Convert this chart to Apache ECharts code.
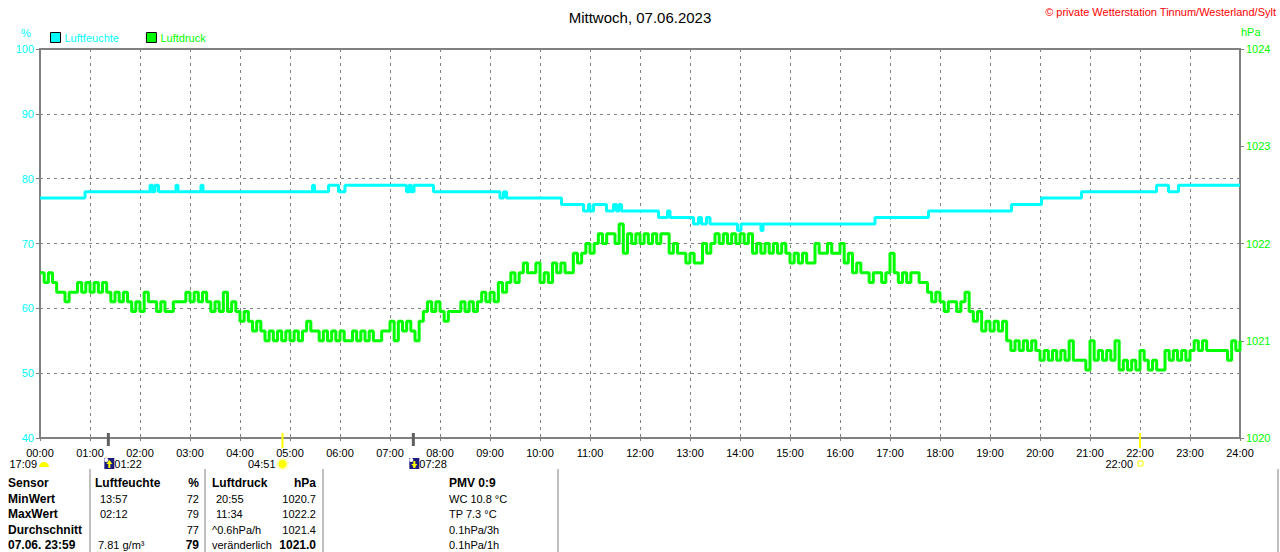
<!DOCTYPE html>
<html>
<head>
<meta charset="utf-8">
<title>Mittwoch, 07.06.2023</title>
<script src="https://cdn.jsdelivr.net/npm/echarts@6/dist/echarts.min.js"></script>
<style>
html, body { margin: 0; padding: 0; background: #fff; }
#chart { width: 1280px; height: 552px; }
</style>
</head>
<body>
<div id="chart"></div>
<script>
// x axis tick labels (hours 0..24)
var hourLabels = ['00:00','01:00','02:00','03:00','04:00','05:00','06:00','07:00','08:00','09:00','10:00','11:00',
	'12:00','13:00','14:00','15:00','16:00','17:00','18:00','19:00','20:00','21:00','22:00','23:00','24:00'];

// Luftfeuchte: step changes, time in hours
var humTimes  = [0, 0.9, 2.2, 2.25, 2.3, 2.37, 2.72, 2.76, 3.22, 3.26, 5.45, 5.49, 5.77, 5.97, 6.1,
	7.33, 7.38, 7.43, 7.48, 7.87, 9.2, 9.27, 9.33, 10.43, 10.87, 10.97, 11.0, 11.07, 11.33, 11.47,
	11.53, 11.58, 11.63, 12.37, 12.55, 12.6, 13.07, 13.17, 13.23, 13.33, 13.4, 13.95, 14.02, 14.42, 14.46,
	16.7, 17.77, 19.43, 20.03, 20.83, 22.33, 22.57, 22.77, 24];
var humValues = [77, 78, 79, 78, 79, 78, 79, 78, 79, 78, 79, 78, 79, 78, 79,
	78, 79, 78, 79, 78, 77, 78, 77, 76, 75, 76, 75, 76, 75, 76,
	75, 76, 75, 74, 75, 74, 73, 74, 73, 74, 73, 72, 73, 72, 73,
	74, 75, 76, 77, 78, 79, 78, 79, 79];

// Luftdruck: one reading every 5 minutes from 00:00 to 24:00
var presStepMin = 5;
var presValues = [
	1021.7, 1021.6, 1021.7, 1021.6, 1021.5, 1021.5, 1021.4, 1021.5, 1021.5, 1021.6, 1021.5, 1021.6,
	1021.5, 1021.6, 1021.5, 1021.6, 1021.5, 1021.4, 1021.5, 1021.4, 1021.5, 1021.4, 1021.3, 1021.4,
	1021.3, 1021.5, 1021.4, 1021.4, 1021.3, 1021.4, 1021.3, 1021.3, 1021.4, 1021.4, 1021.4, 1021.5,
	1021.4, 1021.5, 1021.4, 1021.5, 1021.4, 1021.3, 1021.4, 1021.3, 1021.5, 1021.3, 1021.4, 1021.3,
	1021.2, 1021.3, 1021.2, 1021.1, 1021.2, 1021.1, 1021.0, 1021.1, 1021.0, 1021.1, 1021.0, 1021.1,
	1021.0, 1021.1, 1021.0, 1021.1, 1021.2, 1021.1, 1021.1, 1021.0, 1021.1, 1021.0, 1021.1, 1021.0,
	1021.1, 1021.0, 1021.0, 1021.1, 1021.0, 1021.1, 1021.0, 1021.1, 1021.0, 1021.0, 1021.1, 1021.1,
	1021.2, 1021.0, 1021.2, 1021.1, 1021.2, 1021.1, 1021.0, 1021.2, 1021.3, 1021.4, 1021.3, 1021.4,
	1021.3, 1021.2, 1021.3, 1021.3, 1021.3, 1021.4, 1021.3, 1021.4, 1021.3, 1021.4, 1021.5, 1021.4,
	1021.5, 1021.4, 1021.6, 1021.5, 1021.6, 1021.7, 1021.6, 1021.7, 1021.8, 1021.7, 1021.7, 1021.8,
	1021.6, 1021.7, 1021.6, 1021.8, 1021.7, 1021.8, 1021.7, 1021.7, 1021.9, 1021.8, 1021.9, 1022.0,
	1021.9, 1022.0, 1022.1, 1022.0, 1022.1, 1022.1, 1022.0, 1022.2, 1021.9, 1022.1, 1022.0, 1022.1,
	1022.0, 1022.1, 1022.0, 1022.1, 1022.0, 1022.1, 1022.1, 1021.9, 1022.0, 1021.9, 1021.9, 1021.8,
	1021.9, 1021.8, 1021.8, 1022.0, 1021.9, 1022.0, 1022.1, 1022.0, 1022.1, 1022.0, 1022.1, 1022.0,
	1022.1, 1022.0, 1022.1, 1021.9, 1022.0, 1021.9, 1022.0, 1021.9, 1022.0, 1021.9, 1022.0, 1021.9,
	1021.8, 1021.9, 1021.8, 1021.9, 1021.8, 1021.8, 1022.0, 1021.9, 1021.9, 1022.0, 1021.9, 1021.9,
	1022.0, 1021.8, 1021.9, 1021.7, 1021.8, 1021.7, 1021.7, 1021.6, 1021.7, 1021.7, 1021.6, 1021.7,
	1021.9, 1021.7, 1021.6, 1021.7, 1021.6, 1021.7, 1021.7, 1021.6, 1021.6, 1021.5, 1021.4, 1021.5,
	1021.4, 1021.3, 1021.4, 1021.4, 1021.3, 1021.4, 1021.5, 1021.3, 1021.2, 1021.3, 1021.1, 1021.2,
	1021.1, 1021.2, 1021.1, 1021.2, 1021.0, 1020.9, 1021.0, 1020.9, 1021.0, 1020.9, 1021.0, 1020.9,
	1020.8, 1020.9, 1020.8, 1020.9, 1020.8, 1020.9, 1020.8, 1021.0, 1020.8, 1020.8, 1020.8, 1020.7,
	1021.0, 1020.8, 1020.9, 1020.8, 1020.9, 1020.8, 1021.0, 1020.7, 1020.8, 1020.7, 1020.8, 1020.7,
	1020.9, 1020.8, 1020.7, 1020.8, 1020.7, 1020.7, 1020.9, 1020.8, 1020.9, 1020.8, 1020.9, 1020.8,
	1020.9, 1021.0, 1020.9, 1021.0, 1020.9, 1020.9, 1020.9, 1020.9, 1020.9, 1020.8, 1021.0, 1020.9,
	1021.0
];

// sun / moon events under the time axis
var eventTimes  = [0, 1 + 22 / 60, 4 + 51 / 60, 7 + 28 / 60, 22];
var eventLabels = ['17:09', '01:22', '04:51', '07:28', '22:00'];
var eventIcons  = ['sunHalf', 'moonUp', 'sun', 'moonDown', 'sunBox'];

// table under the chart
var tabSensor = ['Sensor', 'MinWert', 'MaxWert', 'Durchschnitt', '07.06. 23:59'];
var tabHumTime = ['Luftfeuchte', '13:57', '02:12', '', '7.81 g/m\u00b3'];
var tabHumVal = ['%', '72', '79', '77', '79'];
var tabPresTime = ['Luftdruck', '20:55', '11:34', '^0.6hPa/h', 'ver\u00e4nderlich'];
var tabPresVal = ['hPa', '1020.7', '1022.2', '1021.4', '1021.0'];
var tabExtra = ['PMV 0:9', 'WC 10.8 \u00b0C', 'TP 7.3 \u00b0C', '0.1hPa/3h', '0.1hPa/1h'];

var FONT = '"Liberation Sans", Arial, sans-serif';
var CYAN = '#00ffff', GREEN = '#00ff00', GRID = '#808080';

var humData = humTimes.map(function (t, i) { return [t, humValues[i]]; });
var presData = presValues.map(function (v, i) { return [i * presStepMin / 60, v]; });

var chart = echarts.init(document.getElementById('chart'), null, { renderer: 'svg' });

var option = {
	animation: false,
	backgroundColor: '#fff',
	textStyle: { fontFamily: FONT },
	title: {
		text: 'Mittwoch, 07.06.2023',
		left: 'center', top: 5,
		textStyle: { fontFamily: FONT, fontSize: 15, fontWeight: 'normal', color: '#000' }
	},
	legend: {
		left: 50, top: 32,
		icon: 'rect', itemWidth: 10, itemHeight: 10, itemGap: 27,
		padding: 0,
		itemStyle: { borderColor: '#000', borderWidth: 1 },
		textStyle: { fontFamily: FONT, fontSize: 11, padding: [0, 0, 0, -1] },
		data: [
			{ name: 'Luftfeuchte', textStyle: { color: CYAN } },
			{ name: 'Luftdruck', textStyle: { color: GREEN } }
		]
	},
	grid: {
		left: 40, right: 40, top: 49, bottom: 114,
		show: true, borderColor: GRID, borderWidth: 2, backgroundColor: '#fff'
	},
	xAxis: {
		type: 'value', min: 0, max: 24, interval: 1,
		axisLine: { show: false },
		axisTick: { show: true, length: 3, lineStyle: { color: GRID } },
		axisLabel: {
			color: '#000', fontSize: 11, fontFamily: FONT, margin: 9,
			formatter: function (v) { return hourLabels[v]; }
		},
		splitLine: { show: true, lineStyle: { color: GRID, width: 1, type: [3, 4] } }
	},
	yAxis: [
		{
			type: 'value', min: 40, max: 100, interval: 10, position: 'left',
			axisLine: { show: false },
			axisTick: { show: true, length: 4, lineStyle: { color: GRID } },
			axisLabel: { color: CYAN, fontSize: 11, fontFamily: FONT, margin: 6 },
			splitLine: { show: true, lineStyle: { color: GRID, width: 1, type: [3, 4] } }
		},
		{
			type: 'value', min: 1020, max: 1024, interval: 1, position: 'right',
			axisLine: { show: false },
			axisTick: { show: true, length: 4, lineStyle: { color: GRID } },
			axisLabel: {
				color: GREEN, fontSize: 11, fontFamily: FONT, margin: 6,
				formatter: function (v) { return String(v); }
			},
			splitLine: { show: false }
		}
	],
	series: [
		{
			name: 'Luftfeuchte', type: 'line', yAxisIndex: 0, step: 'end',
			showSymbol: false, symbol: 'none', color: CYAN,
			lineStyle: { width: 3, color: CYAN },
			data: humData, z: 3
		},
		{
			name: 'Luftdruck', type: 'line', yAxisIndex: 1, step: 'end',
			showSymbol: false, symbol: 'none', color: GREEN,
			lineStyle: { width: 3, color: GREEN },
			data: presData, z: 2
		}
	]
};
chart.setOption(option);

// ---- decorations: units, copyright, sun/moon markers and the table ----
var g = [];
function txt(x, y, s, opt) {
	opt = opt || {};
	g.push({
		type: 'text', x: x, y: y, silent: true,
		style: {
			text: s, fill: opt.color || '#000',
			font: (opt.bold ? 'bold ' : '') + (opt.size || 11) + 'px ' + FONT,
			textAlign: opt.align || 'left', textVerticalAlign: 'middle'
		}
	});
}

txt(26, 33, '%', { color: CYAN, align: 'center' });
txt(1241, 32, 'hPa', { color: GREEN });
txt(1276, 12, '\u00a9 private Wetterstation Tinnum/Westerland/Sylt', { color: '#ff0000', align: 'right' });

var yBase = chart.convertToPixel({ yAxisIndex: 0 }, 40);
var rowY = yBase + 26;

eventTimes.forEach(function (t, i) {
	var px = chart.convertToPixel({ xAxisIndex: 0 }, t);
	var icon = eventIcons[i];
	if (icon === 'moonUp' || icon === 'moonDown') {
		g.push({ type: 'line', silent: true, shape: { x1: px, y1: yBase - 5, x2: px, y2: yBase + 8 },
			style: { stroke: '#606060', lineWidth: 3 }, z: 50 });
		g.push({ type: 'rect', silent: true, shape: { x: px - 4, y: rowY - 6, width: 10, height: 11 },
			style: { fill: '#1c1c80' }, z: 50 });
		g.push({ type: 'circle', silent: true, shape: { cx: px - 2, cy: rowY - 4, r: 2 },
			style: { fill: '#ffffff' }, z: 51 });
		var up = icon === 'moonUp';
		g.push({ type: 'line', silent: true, shape: { x1: px + 1, y1: rowY + 4, x2: px + 1, y2: rowY - 3 },
			style: { stroke: '#ffff00', lineWidth: 2 }, z: 51 });
		g.push({ type: 'polygon', silent: true,
			shape: { points: up ? [[px - 2, rowY], [px + 4, rowY], [px + 1, rowY - 4]]
				: [[px - 2, rowY], [px + 4, rowY], [px + 1, rowY + 4]] },
			style: { fill: '#ffff00' }, z: 51 });
		txt(px + 6, rowY, eventLabels[i]);
	} else if (icon === 'sun') {
		g.push({ type: 'line', silent: true, shape: { x1: px, y1: yBase - 5, x2: px, y2: yBase + 10 },
			style: { stroke: '#ffff00', lineWidth: 2 }, z: 50 });
		g.push({ type: 'circle', silent: true, shape: { cx: px, cy: rowY, r: 6 },
			style: { fill: '#ffffb0' }, z: 50 });
		g.push({ type: 'circle', silent: true, shape: { cx: px, cy: rowY, r: 4 },
			style: { fill: '#ffff00' }, z: 51 });
		txt(px - 7, rowY, eventLabels[i], { align: 'right' });
	} else if (icon === 'sunBox') {
		g.push({ type: 'line', silent: true, shape: { x1: px, y1: yBase - 5, x2: px, y2: yBase + 10 },
			style: { stroke: '#ffff00', lineWidth: 2 }, z: 50 });
		g.push({ type: 'rect', silent: true, shape: { x: px - 2, y: rowY - 3, width: 5, height: 5 },
			style: { fill: 'none', stroke: '#ffff00', lineWidth: 1 }, z: 50 });
		txt(px - 7, rowY, eventLabels[i], { align: 'right' });
	} else {
		g.push({ type: 'sector', silent: true,
			shape: { cx: px + 4, cy: rowY + 3, r: 5, r0: 0, startAngle: Math.PI, endAngle: 2 * Math.PI },
			style: { fill: '#ffff00' }, z: 50 });
		txt(px - 3, rowY, eventLabels[i], { align: 'right' });
	}
});

[90, 205, 323, 558, 1278].forEach(function (x) {
	g.push({ type: 'line', silent: true, shape: { x1: x, y1: 469, x2: x, y2: 552 },
		style: { stroke: GRID, lineWidth: 1 } });
});

// rows a little tighter than the original so the last one stays inside the picture
var rows = [483, 498.5, 514, 529.5, 545];
rows.forEach(function (y, r) {
	var head = r === 0, last = r === 4;
	txt(8, y, tabSensor[r], { bold: true, size: 12 });
	txt(r === 0 ? 95 : (r === 4 ? 98 : 100), y, tabHumTime[r], { bold: head, size: head ? 12 : 11 });
	txt(199, y, tabHumVal[r], { bold: head || last, size: (head || last) ? 12 : 11, align: 'right' });
	txt((r === 1 || r === 2) ? 216 : 212, y, tabPresTime[r], { bold: head, size: head ? 12 : 11 });
	txt(316, y, tabPresVal[r], { bold: head || last, size: (head || last) ? 12 : 11, align: 'right' });
	txt(449, y, tabExtra[r], { bold: head, size: head ? 12 : 11 });
});

chart.setOption({ graphic: { elements: g } });
</script>
</body>
</html>
